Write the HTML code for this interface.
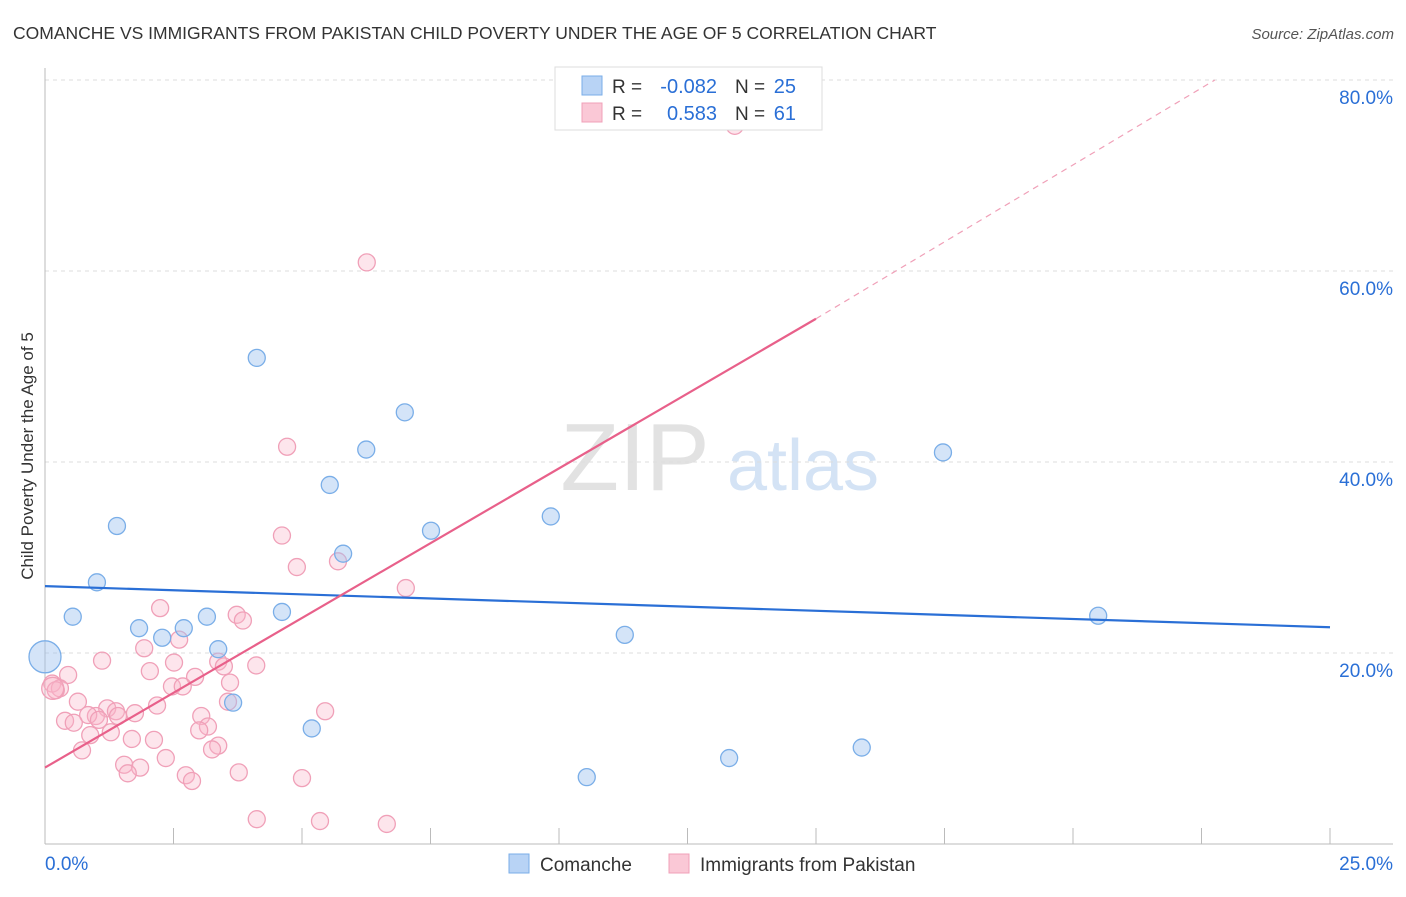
<!DOCTYPE html>
<html><head><meta charset="utf-8"><style>
body{margin:0;background:#fff;font-family:"Liberation Sans",sans-serif;}
svg text{font-family:"Liberation Sans",sans-serif;}
</style></head><body>
<svg id="chart" width="1406" height="892" viewBox="0 0 1406 892" xmlns="http://www.w3.org/2000/svg">
<text x="13" y="39" font-size="17.5" fill="#333">COMANCHE VS IMMIGRANTS FROM PAKISTAN CHILD POVERTY UNDER THE AGE OF 5 CORRELATION CHART</text>
<text x="1394" y="39" font-size="15" fill="#555" text-anchor="end" font-style="italic">Source: ZipAtlas.com</text>
<g>
<text x="635" y="490" font-size="96" fill="#e2e2e2" text-anchor="middle" font-family="Liberation Serif, serif">ZIP</text>
<text x="803" y="490" font-size="72" fill="#d4e3f5" text-anchor="middle">atlas</text>
</g>
<g id="grid"></g>
<g id="axes"></g>
<g id="marks"></g>
<text transform="translate(33,456) rotate(-90)" font-size="17" fill="#333" text-anchor="middle">Child Poverty Under the Age of 5</text>
<g>
<rect x="555" y="67" width="267" height="63" fill="#fff" stroke="#ddd"/>
<rect x="582" y="76" width="20" height="19" fill="#b8d3f5" stroke="#7aaee8"/>
<rect x="582" y="103" width="20" height="19" fill="#fac8d6" stroke="#f0a0b8"/>
<text x="612" y="93" font-size="19" fill="#333">R =</text>
<text x="717" y="93" font-size="20" fill="#2a6fd6" text-anchor="end">-0.082</text>
<text x="735" y="93" font-size="19" fill="#333">N =</text>
<text x="796" y="93" font-size="20" fill="#2a6fd6" text-anchor="end">25</text>
<text x="612" y="120" font-size="19" fill="#333">R =</text>
<text x="717" y="120" font-size="20" fill="#2a6fd6" text-anchor="end">0.583</text>
<text x="735" y="120" font-size="19" fill="#333">N =</text>
<text x="796" y="120" font-size="20" fill="#2a6fd6" text-anchor="end">61</text>
</g>
<g>
<rect x="509" y="854" width="20" height="19" fill="#b8d3f5" stroke="#7aaee8"/>
<text x="540" y="871" font-size="19" fill="#333">Comanche</text>
<rect x="669" y="854" width="20" height="19" fill="#fac8d6" stroke="#f0a0b8"/>
<text x="700" y="871" font-size="19" fill="#333">Immigrants from Pakistan</text>
</g>
</svg>
<script>
const comancheX=[0.0,0.54,1.01,1.40,1.83,2.28,2.70,3.15,3.37,3.66,4.12,4.61,5.19,5.54,5.80,6.25,7.00,7.51,9.84,10.54,11.28,13.31,15.89,17.47,20.49];
const comancheY=[19.6,23.8,27.4,33.3,22.6,21.6,22.6,23.8,20.4,14.8,50.9,24.3,12.1,37.6,30.4,41.3,45.2,32.8,34.3,7.0,21.9,9.0,10.1,41.0,23.9];
const pakX=[13.42,6.26,4.71,4.61,4.90,5.70,7.02,2.24,3.73,3.85,2.61,1.93,1.11,2.51,3.37,3.48,4.11,2.04,0.45,2.92,3.60,0.14,0.29,2.47,2.68,0.21,0.64,3.56,2.18,1.21,1.38,1.75,0.99,0.84,1.42,5.45,3.04,0.39,0.56,1.05,3.17,3.00,1.28,0.88,1.69,2.12,3.37,3.25,0.72,2.35,1.54,1.85,1.61,2.74,2.86,3.77,5.00,4.12,5.35,6.65,0.15];
const pakY=[75.2,60.9,41.6,32.3,29.0,29.6,26.8,24.7,24.0,23.4,21.4,20.5,19.2,19.0,19.1,18.6,18.7,18.1,17.7,17.5,16.9,16.8,16.3,16.5,16.5,16.1,14.9,14.9,14.5,14.2,13.9,13.7,13.4,13.5,13.4,13.9,13.4,12.9,12.7,13.0,12.3,11.9,11.7,11.4,11.0,10.9,10.3,9.9,9.8,9.0,8.3,8.0,7.4,7.2,6.6,7.5,6.9,2.6,2.4,2.1,16.3];
const yTicks=[20,40,60,80];
const xTickVals=[0,2.5,5,7.5,10,12.5,15,17.5,20,22.5,25];
const blueLine=[27.0,22.7];
const pinkLine=[8.0,55.0,80.0];
const pinkLineX=[0,15,22.76];

const NS="http://www.w3.org/2000/svg";
const xs=v=>45+v*(1330-45)/25;
const ys=v=>844-v*(844-80)/80;
function mk(tag,attrs,parent){const e=document.createElementNS(NS,tag);for(const k in attrs)e.setAttribute(k,attrs[k]);parent.appendChild(e);return e;}
const grid=document.getElementById('grid'),axes=document.getElementById('axes'),marks=document.getElementById('marks');
yTicks.forEach(t=>{
 const l=mk('line',{x1:45,x2:1393,y1:ys(t),y2:ys(t),stroke:'#ddd','stroke-dasharray':'4,4'},grid);
 
 
 const tx=mk('text',{x:1393,y:ys(t)+24,'font-size':19,fill:'#2a6fd6','text-anchor':'end'},axes);
 tx.textContent=t.toFixed(1)+'%';
 
 
});
const ax=mk('line',{x1:45,x2:1393,y1:844,y2:844,stroke:'#bbb'},axes);


const ay=mk('line',{x1:45,x2:45,y1:68,y2:844,stroke:'#bbb'},axes);


xTickVals.forEach(t=>{
 const l=mk('line',{x1:xs(t),x2:xs(t),y1:828,y2:844,stroke:'#bbb'},axes);
 
 
});
const xl0=mk('text',{x:45,y:870,'font-size':19,fill:'#2a6fd6'},axes);xl0.textContent='0.0%';


const xl1=mk('text',{x:1393,y:870,'font-size':19,fill:'#2a6fd6','text-anchor':'end'},axes);xl1.textContent='25.0%';



pakX.forEach((x,i)=>{
 const r=(i===pakX.length-1)?11:8.5;
 const c=mk('circle',{cx:xs(x),cy:ys(pakY[i]),r:r,fill:'rgba(248,180,200,0.35)',stroke:'#f0a0b8','stroke-width':1.3},marks);
 
 
});
comancheX.forEach((x,i)=>{
 const r=(i===0)?16:8.5;
 const c=mk('circle',{cx:xs(x),cy:ys(comancheY[i]),r:r,fill:'rgba(160,196,240,0.45)',stroke:'#7aaee8','stroke-width':1.3},marks);
 
 
});
const bl=mk('line',{x1:xs(0),y1:ys(blueLine[0]),x2:xs(25),y2:ys(blueLine[1]),stroke:'#2a6fd6','stroke-width':2.2},marks);


const pl=mk('line',{x1:xs(pinkLineX[0]),y1:ys(pinkLine[0]),x2:xs(pinkLineX[1]),y2:ys(pinkLine[1]),stroke:'#e8608a','stroke-width':2.2},marks);


const pd=mk('line',{x1:xs(pinkLineX[1]),y1:ys(pinkLine[1]),x2:xs(pinkLineX[2]),y2:ys(pinkLine[2]),stroke:'#f0a0b8','stroke-width':1.2,'stroke-dasharray':'6,5'},marks);


</script>
</body></html>
